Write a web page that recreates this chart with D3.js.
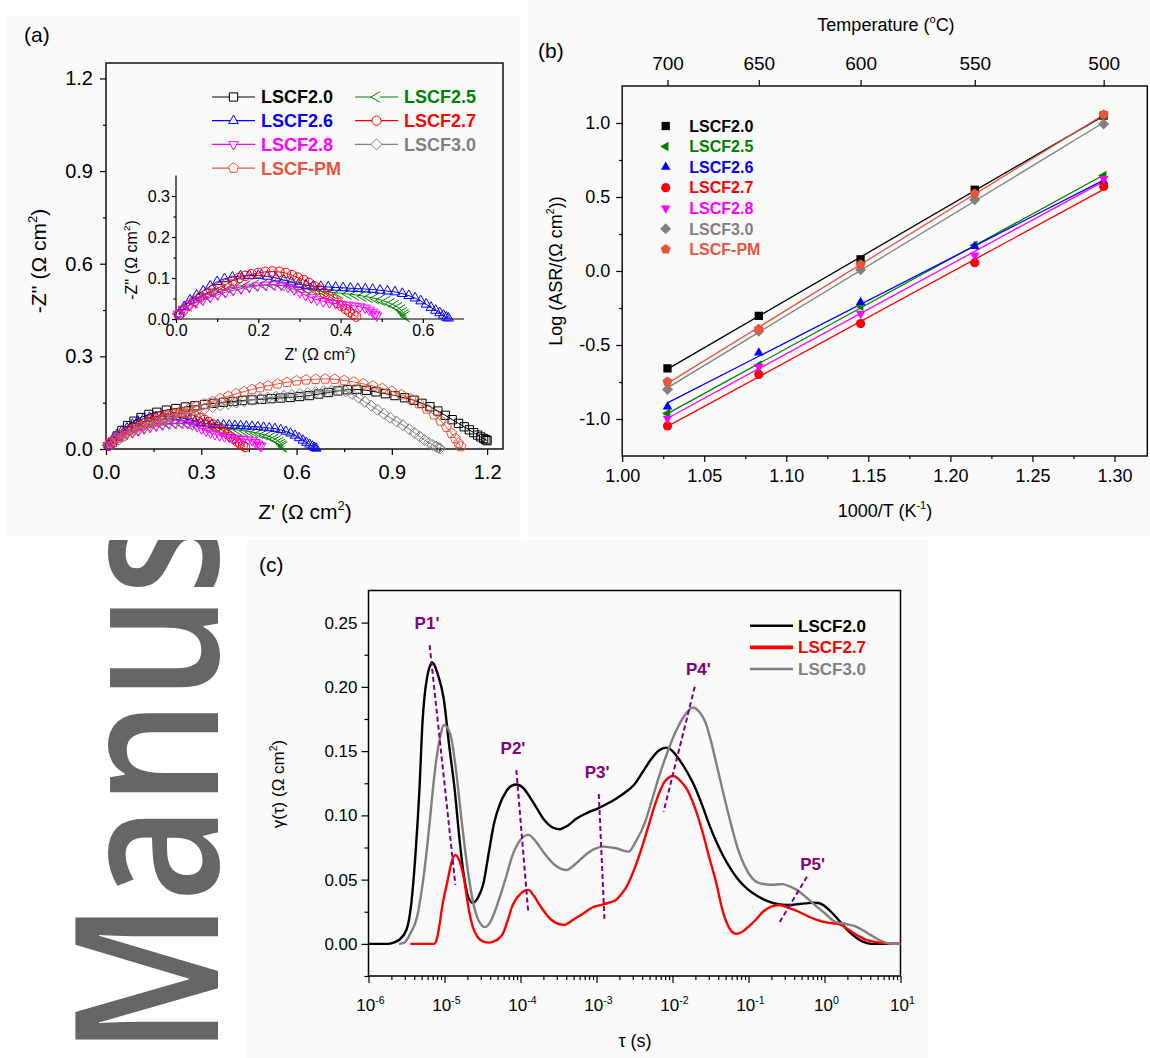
<!DOCTYPE html>
<html>
<head>
<meta charset="utf-8">
<script src="https://cdn.jsdelivr.net/npm/d3@7"></script>
<style>
  body { margin: 0; background: #fff; }
  svg { display: block; }
</style>
</head>
<body>
<svg id="fig" width="1150" height="1058"></svg>
<script>
// ---------------- data ----------------
// (a) Nyquist plots: [Z', -Z''] in ohm cm2
const seriesNames = ["LSCF2.0", "LSCF2.5", "LSCF2.6", "LSCF2.7", "LSCF2.8", "LSCF3.0", "LSCF-PM"];

const nyq20 = [[0.02,0.022],[0.035,0.042],[0.05,0.06],[0.068,0.076],[0.088,0.09],[0.11,0.102],[0.135,0.112],[0.16,0.119],[0.19,0.126],[0.22,0.131],[0.25,0.136],[0.28,0.14],[0.31,0.144],[0.34,0.148],[0.37,0.151],[0.4,0.154],[0.43,0.157],[0.46,0.159],[0.49,0.161],[0.52,0.163],[0.55,0.165],[0.58,0.167],[0.61,0.17],[0.64,0.173],[0.67,0.178],[0.7,0.183],[0.73,0.188],[0.76,0.192],[0.79,0.193],[0.82,0.19],[0.85,0.185],[0.88,0.179],[0.91,0.173],[0.94,0.166],[0.97,0.158],[0.995,0.148],[1.02,0.137],[1.045,0.123],[1.068,0.109],[1.09,0.095],[1.11,0.083],[1.128,0.072],[1.144,0.062],[1.158,0.053],[1.17,0.045],[1.18,0.039],[1.189,0.034],[1.196,0.03],[1.2,0.027]];
const nyq25 = [[0.005,0.012],[0.017,0.022],[0.03,0.032],[0.045,0.04],[0.06,0.047],[0.077,0.055],[0.095,0.062],[0.113,0.068],[0.132,0.073],[0.152,0.077],[0.172,0.08],[0.193,0.082],[0.214,0.083],[0.235,0.083],[0.256,0.082],[0.277,0.08],[0.298,0.077],[0.318,0.073],[0.338,0.07],[0.358,0.067],[0.378,0.065],[0.398,0.063],[0.418,0.061],[0.436,0.059],[0.454,0.056],[0.47,0.053],[0.485,0.05],[0.499,0.046],[0.512,0.042],[0.523,0.037],[0.533,0.032],[0.541,0.027],[0.548,0.021],[0.553,0.015],[0.557,0.01],[0.56,0.006]];
const nyq26 = [[0.008,0.012],[0.02,0.03],[0.034,0.046],[0.05,0.058],[0.066,0.068],[0.083,0.08],[0.1,0.091],[0.118,0.098],[0.137,0.102],[0.157,0.105],[0.178,0.106],[0.2,0.106],[0.222,0.104],[0.243,0.1],[0.262,0.095],[0.28,0.09],[0.298,0.085],[0.316,0.082],[0.334,0.08],[0.352,0.079],[0.37,0.078],[0.388,0.077],[0.406,0.076],[0.424,0.075],[0.442,0.074],[0.46,0.073],[0.478,0.072],[0.496,0.07],[0.514,0.068],[0.532,0.066],[0.55,0.062],[0.566,0.057],[0.581,0.051],[0.595,0.044],[0.608,0.036],[0.62,0.028],[0.631,0.021],[0.641,0.015],[0.65,0.009],[0.657,0.004],[0.662,0.002]];
const nyq27 = [[0.008,0.01],[0.018,0.022],[0.03,0.033],[0.044,0.044],[0.06,0.054],[0.075,0.062],[0.091,0.071],[0.107,0.078],[0.123,0.085],[0.138,0.093],[0.153,0.1],[0.168,0.105],[0.184,0.109],[0.2,0.112],[0.217,0.115],[0.234,0.116],[0.251,0.115],[0.267,0.112],[0.282,0.107],[0.296,0.101],[0.31,0.095],[0.323,0.088],[0.336,0.08],[0.348,0.072],[0.36,0.064],[0.371,0.056],[0.382,0.048],[0.393,0.04],[0.403,0.032],[0.413,0.024],[0.422,0.017],[0.431,0.011],[0.438,0.006]];
const nyq28 = [[0.005,0.012],[0.017,0.024],[0.032,0.033],[0.048,0.04],[0.065,0.047],[0.083,0.053],[0.101,0.059],[0.12,0.065],[0.139,0.07],[0.158,0.074],[0.178,0.078],[0.198,0.081],[0.218,0.083],[0.238,0.084],[0.256,0.082],[0.272,0.078],[0.287,0.072],[0.301,0.065],[0.315,0.058],[0.329,0.052],[0.343,0.047],[0.358,0.043],[0.373,0.04],[0.388,0.038],[0.403,0.036],[0.418,0.034],[0.433,0.032],[0.447,0.03],[0.46,0.027],[0.47,0.022],[0.478,0.017],[0.484,0.012],[0.488,0.008]];
const nyq30 = [[0.02,0.015],[0.04,0.03],[0.06,0.043],[0.085,0.056],[0.11,0.067],[0.135,0.077],[0.16,0.087],[0.185,0.096],[0.21,0.104],[0.235,0.111],[0.26,0.118],[0.285,0.124],[0.31,0.13],[0.335,0.136],[0.36,0.141],[0.385,0.146],[0.41,0.151],[0.435,0.155],[0.46,0.159],[0.485,0.163],[0.51,0.166],[0.535,0.169],[0.56,0.172],[0.585,0.175],[0.61,0.178],[0.635,0.181],[0.66,0.184],[0.685,0.187],[0.71,0.189],[0.735,0.19],[0.755,0.187],[0.775,0.178],[0.795,0.166],[0.815,0.153],[0.835,0.14],[0.855,0.127],[0.875,0.114],[0.895,0.101],[0.915,0.089],[0.935,0.077],[0.955,0.064],[0.972,0.052],[0.988,0.04],[1.003,0.029],[1.017,0.02],[1.029,0.013],[1.039,0.008],[1.047,0.004],[1.052,0.002]];
const nyqPM = [[0.013,0.022],[0.035,0.036],[0.06,0.05],[0.085,0.062],[0.11,0.073],[0.135,0.083],[0.16,0.093],[0.185,0.102],[0.21,0.111],[0.235,0.12],[0.26,0.129],[0.285,0.138],[0.31,0.146],[0.335,0.154],[0.36,0.163],[0.385,0.171],[0.41,0.179],[0.435,0.186],[0.46,0.193],[0.485,0.199],[0.51,0.205],[0.54,0.211],[0.57,0.216],[0.6,0.221],[0.63,0.224],[0.66,0.226],[0.69,0.227],[0.72,0.226],[0.75,0.222],[0.78,0.217],[0.81,0.211],[0.84,0.204],[0.87,0.196],[0.9,0.187],[0.93,0.176],[0.96,0.162],[0.985,0.147],[1.01,0.13],[1.033,0.111],[1.054,0.091],[1.072,0.071],[1.088,0.051],[1.1,0.034],[1.11,0.019],[1.117,0.008]];

// (b) Arrhenius data: measuring temperatures (deg C) and log(ASR)
const tempsC = [700, 650, 600, 550, 500];
const logASR20 = [-0.658, -0.303, 0.079, 0.549, 1.05];
const logASR25 = [-0.962, -0.636, -0.238, 0.173, 0.645];
const logASR26 = [-0.917, -0.553, -0.211, 0.167, 0.605];
const logASR27 = [-1.047, -0.699, -0.355, 0.056, 0.571];
const logASR28 = [-0.996, -0.647, -0.288, 0.106, 0.623];
const logASR30 = [-0.8, -0.407, 0.009, 0.481, 0.994];
const logASRPM = [-0.748, -0.393, 0.043, 0.522, 1.057];

// (c) distribution of relaxation times: [log10(tau/s), gamma]
const drtNames = ["LSCF2.0", "LSCF2.7", "LSCF3.0"];
const drt20 = [[-6,0],[-5.75,0],[-5.67,0.001],[-5.6,0.003],[-5.5,0.011],[-5.44,0.03],[-5.384,0.068],[-5.33,0.12],[-5.29,0.172],[-5.23,0.207],[-5.158,0.219],[-5.09,0.21],[-5.008,0.19],[-4.94,0.155],[-4.866,0.12],[-4.8,0.08],[-4.75,0.055],[-4.69,0.037],[-4.63,0.032],[-4.56,0.036],[-4.488,0.047],[-4.42,0.07],[-4.347,0.094],[-4.27,0.109],[-4.205,0.117],[-4.12,0.123],[-4.05,0.124],[-3.96,0.121],[-3.875,0.114],[-3.78,0.105],[-3.687,0.0964],[-3.59,0.091],[-3.488,0.0892],[-3.38,0.092],[-3.262,0.0975],[-3.12,0.102],[-2.979,0.1055],[-2.86,0.109],[-2.743,0.113],[-2.62,0.118],[-2.508,0.1236],[-2.39,0.134],[-2.272,0.1444],[-2.18,0.1505],[-2.083,0.1527],[-1.99,0.1495],[-1.895,0.142],[-1.8,0.133],[-1.707,0.1223],[-1.61,0.108],[-1.518,0.093],[-1.42,0.079],[-1.329,0.068],[-1.23,0.058],[-1.141,0.0505],[-1.02,0.043],[-0.904,0.038],[-0.78,0.034],[-0.668,0.0316],[-0.55,0.0305],[-0.432,0.0303],[-0.34,0.031],[-0.245,0.0315],[-0.16,0.032],[-0.08,0.0318],[0.0,0.0295],[0.086,0.025],[0.18,0.019],[0.275,0.0125],[0.37,0.007],[0.463,0.003],[0.55,0.0008],[0.62,0],[1,0]];
const drt27 = [[-5.45,0],[-5.14,0],[-5.1,0.004],[-5.07,0.013],[-5.03,0.029],[-4.96,0.049],[-4.91,0.063],[-4.857,0.0692],[-4.8,0.064],[-4.748,0.0523],[-4.69,0.03],[-4.63,0.0135],[-4.56,0.005],[-4.488,0.0018],[-4.42,0.001],[-4.35,0.002],[-4.29,0.004],[-4.229,0.0083],[-4.17,0.018],[-4.111,0.029],[-4.0,0.039],[-3.899,0.042],[-3.82,0.037],[-3.734,0.029],[-3.6,0.019],[-3.428,0.0148],[-3.3,0.019],[-3.168,0.0239],[-3.05,0.0285],[-2.933,0.0303],[-2.84,0.032],[-2.743,0.0342],[-2.67,0.039],[-2.602,0.0448],[-2.51,0.057],[-2.413,0.0731],[-2.32,0.091],[-2.225,0.1094],[-2.1,0.1265],[-1.989,0.1306],[-1.9,0.127],[-1.8,0.1193],[-1.7,0.105],[-1.612,0.0886],[-1.52,0.068],[-1.424,0.0473],[-1.35,0.028],[-1.281,0.0156],[-1.22,0.0095],[-1.164,0.0078],[-1.08,0.0095],[-0.999,0.0135],[-0.9,0.019],[-0.81,0.025],[-0.7,0.029],[-0.598,0.0303],[-0.47,0.028],[-0.338,0.025],[-0.22,0.0215],[-0.102,0.0187],[0.04,0.0165],[0.18,0.0156],[0.322,0.0109],[0.45,0.006],[0.558,0.003],[0.7,0.0012],[0.85,0.0003],[1,0]];
const drt30 = [[-5.6,0],[-5.526,0.001],[-5.45,0.008],[-5.36,0.0212],[-5.28,0.05],[-5.196,0.094],[-5.15,0.122],[-5.102,0.1457],[-5.05,0.163],[-5.008,0.1703],[-4.96,0.168],[-4.914,0.161],[-4.85,0.136],[-4.771,0.094],[-4.7,0.06],[-4.63,0.0342],[-4.55,0.018],[-4.465,0.013],[-4.38,0.019],[-4.3,0.0316],[-4.2,0.05],[-4.111,0.068],[-4.0,0.081],[-3.899,0.0848],[-3.79,0.079],[-3.687,0.0705],[-3.54,0.061],[-3.395,0.0575],[-3.28,0.062],[-3.168,0.068],[-3.04,0.0735],[-2.909,0.0757],[-2.743,0.0744],[-2.579,0.0718],[-2.48,0.08],[-2.366,0.094],[-2.27,0.112],[-2.178,0.1301],[-2.08,0.147],[-1.989,0.161],[-1.86,0.176],[-1.73,0.184],[-1.64,0.18],[-1.564,0.172],[-1.49,0.157],[-1.424,0.1405],[-1.33,0.117],[-1.234,0.094],[-1.14,0.074],[-1.046,0.0601],[-0.95,0.051],[-0.857,0.0473],[-0.7,0.046],[-0.55,0.0465],[-0.45,0.0445],[-0.338,0.041],[-0.22,0.035],[-0.102,0.029],[0.0,0.024],[0.133,0.0174],[0.28,0.0155],[0.416,0.0135],[0.51,0.0105],[0.605,0.007],[0.72,0.003],[0.841,0.0005],[1,0]];

// (c) peak guide lines: labels, label anchor and line ends in [log10(tau), gamma]
const peakLabels = ["P1'", "P2'", "P3'", "P4'", "P5'"];
const peakLabelAt = [[-5.23, 0.25], [-4.099, 0.1522], [-2.991, 0.134], [-1.659, 0.214], [-0.157, 0.0624]];
const peakLineFrom = [[-5.196, 0.2325], [-4.055, 0.1353], [-2.97, 0.1166], [-1.707, 0.2001], [-0.23, 0.0523]];
const peakLineTo = [[-4.857, 0.0459], [-3.899, 0.0251], [-2.895, 0.0187], [-2.117, 0.1029], [-0.598, 0.0161]];

// ---------------- styles ----------------
const FONT = "'Liberation Sans', Arial, Helvetica, sans-serif";
const colors = ["#000000", "#008000", "#0000ff", "#ff0000", "#ff00ff", "#808080", "#e8553c"];
const shapesA = ["square", "chevron", "up", "circle", "down", "diamond", "pentagon"];
const shapesB = ["square", "left", "up", "circle", "down", "diamond", "pentagon"];
const drtColors = ["#000000", "#ff0000", "#808080"];
const drtWidths = [2.4, 2.4, 2.4];
const drtLegendWidths = [2.6, 3.8, 2.6];
const PANEL_BG = "#fafafa";

const svg = d3.select("#fig");

// marker geometry
function markerPath(kind, r) {
  const p = d3.path();
  const polygon = (angles, rad) => {
    angles.forEach((a, i) => {
      const t = a * Math.PI / 180;
      const x = rad * Math.cos(t), y = rad * Math.sin(t);
      if (i === 0) p.moveTo(x, y); else p.lineTo(x, y);
    });
    p.closePath();
  };
  switch (kind) {
    case "square": p.rect(-r * 0.9, -r * 0.9, r * 1.8, r * 1.8); break;
    case "circle": p.moveTo(r, 0); p.arc(0, 0, r, 0, 2 * Math.PI); break;
    case "up": polygon([-90, 30, 150], r * 1.2); break;
    case "down": polygon([90, 210, 330], r * 1.2); break;
    case "left": polygon([180, 300, 60], r * 1.2); break;
    case "chevron": {
      const s = r * 1.2;
      p.moveTo(s * 0.6, -s * 0.95); p.lineTo(-s, 0); p.lineTo(s * 0.6, s * 0.95);
      break;
    }
    case "diamond": polygon([0, 90, 180, 270], r * 1.2); break;
    case "pentagon": polygon([-90, -18, 54, 126, 198], r * 1.15); break;
  }
  return p.toString();
}

function styleAxis(g, fs) {
  g.attr("font-size", fs).attr("font-family", FONT);
  g.selectAll(".domain").remove();
  g.selectAll(".tick line").attr("stroke", "#000").attr("stroke-width", 1.2);
  g.selectAll(".tick text").attr("fill", "#000");
}

// text with simple superscript parts: [[text, isSup], ...]
function richText(parent, x, y, parts, fs, opts = {}) {
  const t = parent.append("text")
    .attr("x", x).attr("y", y)
    .attr("font-family", FONT).attr("font-size", fs)
    .attr("text-anchor", opts.anchor || "middle")
    .attr("fill", opts.fill || "#000");
  if (opts.transform) t.attr("transform", opts.transform);
  if (opts.weight) t.attr("font-weight", opts.weight);
  let sup = false;
  parts.forEach(([s, isSup]) => {
    const ts = t.append("tspan").text(s);
    if (isSup && !sup) ts.attr("dy", -fs * 0.42).attr("font-size", fs * 0.62);
    else if (!isSup && sup) ts.attr("dy", fs * 0.42);
    sup = isSup;
  });
  return t;
}

// ---------------- backgrounds & watermark ----------------
const clip = svg.append("defs").append("clipPath").attr("id", "wmClip");
clip.append("rect").attr("x", 0).attr("y", 540).attr("width", 245).attr("height", 518);

svg.append("g").attr("clip-path", "url(#wmClip)")
  .append("text")
  .attr("transform", "translate(218,1055) rotate(-90) scale(0.83,1)")
  .attr("font-family", "'Open Sans', 'Noto Sans', sans-serif")
  .attr("font-size", 200)
  .attr("font-weight", 600)
  .attr("fill", "#666666")
  .text("Manus");

svg.append("rect").attr("x", 5).attr("y", 15).attr("width", 515).attr("height", 522).attr("fill", PANEL_BG);
svg.append("rect").attr("x", 528).attr("y", 0).attr("width", 622).attr("height", 537).attr("fill", PANEL_BG);
svg.append("rect").attr("x", 247).attr("y", 540).attr("width", 681).attr("height", 518).attr("fill", PANEL_BG);

// ---------------- panel (a) ----------------
const nyqData = [nyq20, nyq25, nyq26, nyq27, nyq28, nyq30, nyqPM];
const gA = svg.append("g");
const xA = d3.scaleLinear().domain([0, 1.25]).range([106, 503]);
const yA = d3.scaleLinear().domain([0, 1.25]).range([449, 63]);

gA.append("text").attr("x", 24).attr("y", 42).attr("font-family", FONT).attr("font-size", 21).text("(a)");

const fmt1 = d => d.toFixed(1);
styleAxis(gA.append("g").attr("transform", "translate(0,449)")
  .call(d3.axisBottom(xA).tickValues([0, 0.3, 0.6, 0.9, 1.2]).tickFormat(fmt1).tickSize(6).tickPadding(10)), 20);
styleAxis(gA.append("g").attr("transform", "translate(0,449)")
  .call(d3.axisBottom(xA).tickValues([0.15, 0.45, 0.75, 1.05]).tickFormat("").tickSize(3)), 20);
styleAxis(gA.append("g").attr("transform", "translate(106,0)")
  .call(d3.axisLeft(yA).tickValues([0, 0.3, 0.6, 0.9, 1.2]).tickFormat(fmt1).tickSize(6).tickPadding(7)), 20);
styleAxis(gA.append("g").attr("transform", "translate(106,0)")
  .call(d3.axisLeft(yA).tickValues([0.15, 0.45, 0.75, 1.05]).tickFormat("").tickSize(3)), 20);
gA.append("rect").attr("x", 106).attr("y", 63).attr("width", 397).attr("height", 386)
  .attr("fill", "none").attr("stroke", "#000").attr("stroke-width", 1.4);

richText(gA, 305, 519, [["Z' (\u03A9 cm", false], ["2", true], [")", false]], 21);
richText(gA, 0, 0, [["-Z'' (\u03A9 cm", false], ["2", true], [")", false]], 21,
  { transform: "translate(46,261) rotate(-90)" });

function drawNyquist(g, xs, ys, idxList, r) {
  idxList.forEach(i => {
    const pts = nyqData[i];
    g.append("path")
      .attr("d", d3.line().x(d => xs(d[0])).y(d => ys(d[1]))(pts))
      .attr("fill", "none").attr("stroke", colors[i]).attr("stroke-width", 1);
    g.append("g").selectAll("path").data(pts).join("path")
      .attr("transform", d => `translate(${xs(d[0])},${ys(d[1])})`)
      .attr("d", markerPath(shapesA[i], r))
      .attr("fill", "none").attr("stroke", colors[i]).attr("stroke-width", 1);
  });
}
drawNyquist(gA.append("g"), xA, yA, [0, 1, 2, 3, 4, 5, 6], 4.6);

// legend (a)
const legA = gA.append("g");
const legAPos = [[0, 0], [1, 0], [0, 1], [1, 1], [0, 2], [1, 2], [0, 3]];
seriesNames.forEach((name, i) => {
  const [c, r] = legAPos[i];
  const x0 = c === 0 ? 212 : 355;
  const y0 = 97 + r * 23.7;
  legA.append("line").attr("x1", x0).attr("x2", x0 + 43).attr("y1", y0).attr("y2", y0)
    .attr("stroke", colors[i]).attr("stroke-width", 1.2);
  legA.append("path").attr("transform", `translate(${x0 + 21.5},${y0})`)
    .attr("d", markerPath(shapesA[i], 4.6))
    .attr("fill", PANEL_BG).attr("stroke", colors[i]).attr("stroke-width", 1);
  legA.append("text").attr("x", x0 + 49).attr("y", y0).attr("dy", "0.36em")
    .attr("font-family", FONT).attr("font-size", 18).attr("font-weight", "bold")
    .attr("fill", colors[i]).text(name);
});

// inset (a)
const gI = gA.append("g");
const xI = d3.scaleLinear().domain([0, 0.7]).range([176, 464]);
const yI = d3.scaleLinear().domain([0, 0.35]).range([319, 175.5]);
gI.append("line").attr("x1", 176).attr("x2", 464).attr("y1", 319).attr("y2", 319).attr("stroke", "#000").attr("stroke-width", 1.2);
gI.append("line").attr("x1", 176).attr("x2", 176).attr("y1", 319).attr("y2", 175.5).attr("stroke", "#000").attr("stroke-width", 1.2);
styleAxis(gI.append("g").attr("transform", "translate(0,319)")
  .call(d3.axisBottom(xI).tickValues([0, 0.2, 0.4, 0.6]).tickFormat(fmt1).tickSize(4).tickPadding(2)), 16);
styleAxis(gI.append("g").attr("transform", "translate(0,319)")
  .call(d3.axisBottom(xI).tickValues([0.1, 0.3, 0.5]).tickFormat("").tickSize(3)), 16);
styleAxis(gI.append("g").attr("transform", "translate(176,0)")
  .call(d3.axisLeft(yI).tickValues([0, 0.1, 0.2, 0.3]).tickFormat(fmt1).tickSize(4).tickPadding(2)), 16);
styleAxis(gI.append("g").attr("transform", "translate(176,0)")
  .call(d3.axisLeft(yI).tickValues([0.05, 0.15, 0.25]).tickFormat("").tickSize(2.5)), 16);
richText(gI, 320, 360, [["Z' (\u03A9 cm", false], ["2", true], [")", false]], 16);
richText(gI, 0, 0, [["-Z'' (\u03A9 cm", false], ["2", true], [")", false]], 16,
  { transform: "translate(137,260) rotate(-90)" });
drawNyquist(gI.append("g"), xI, yI, [1, 2, 3, 4], 4.8);

// ---------------- panel (b) ----------------
const asrData = [logASR20, logASR25, logASR26, logASR27, logASR28, logASR30, logASRPM];
const invT = tempsC.map(t => 1000 / (t + 273.15));
const gB = svg.append("g");
const xB = d3.scaleLinear().domain([1.0, 1.32]).range([622.2, 1147.3]);
const yB = d3.scaleLinear().domain([-1.25, 1.25]).range([456, 86]);

gB.append("text").attr("x", 538).attr("y", 58).attr("font-family", FONT).attr("font-size", 21).text("(b)");

const fmt2 = d => d.toFixed(2);
styleAxis(gB.append("g").attr("transform", "translate(0,456)")
  .call(d3.axisBottom(xB).tickValues(d3.range(0, 7).map(k => 1 + k * 0.05)).tickFormat(fmt2).tickSize(6).tickPadding(7)), 18);
styleAxis(gB.append("g").attr("transform", "translate(0,456)")
  .call(d3.axisBottom(xB).tickValues(d3.range(0, 6).map(k => 1.025 + k * 0.05)).tickFormat("").tickSize(3)), 18);
styleAxis(gB.append("g").attr("transform", "translate(622.2,0)")
  .call(d3.axisLeft(yB).tickValues([-1, -0.5, 0, 0.5, 1]).tickFormat(fmt1).tickSize(6).tickPadding(6)), 18);
styleAxis(gB.append("g").attr("transform", "translate(622.2,0)")
  .call(d3.axisLeft(yB).tickValues([-0.75, -0.25, 0.25, 0.75]).tickFormat("").tickSize(3)), 18);
styleAxis(gB.append("g").attr("transform", "translate(0,86)")
  .call(d3.axisTop(xB).tickValues(invT).tickFormat((d, i) => tempsC[i]).tickSize(6).tickPadding(10)), 19);
gB.append("rect").attr("x", 622.2).attr("y", 86).attr("width", 1147.3 - 622.2).attr("height", 370)
  .attr("fill", "none").attr("stroke", "#000").attr("stroke-width", 1.4);

richText(gB, 886, 31, [["Temperature (", false], ["o", true], ["C)", false]], 18);
richText(gB, 885, 517, [["1000/T (K", false], ["-1", true], [")", false]], 18);
richText(gB, 0, 0, [["Log (ASR/(\u03A9 cm", false], ["2", true], ["))", false]], 18,
  { transform: "translate(562,271) rotate(-90)" });

// least-squares fit lines
asrData.forEach((vals, i) => {
  const mx = d3.mean(invT), my = d3.mean(vals);
  const sxy = d3.sum(invT, (x, k) => (x - mx) * (vals[k] - my));
  const sxx = d3.sum(invT, x => (x - mx) * (x - mx));
  const slope = sxy / sxx, icpt = my - slope * mx;
  const xs = [invT[0], invT[invT.length - 1]];
  gB.append("line")
    .attr("x1", xB(xs[0])).attr("y1", yB(icpt + slope * xs[0]))
    .attr("x2", xB(xs[1])).attr("y2", yB(icpt + slope * xs[1]))
    .attr("stroke", colors[i]).attr("stroke-width", 1.3);
});
asrData.forEach((vals, i) => {
  gB.append("g").selectAll("path").data(vals).join("path")
    .attr("transform", (d, k) => `translate(${xB(invT[k])},${yB(d)})`)
    .attr("d", markerPath(shapesB[i], 4.6))
    .attr("fill", colors[i]).attr("stroke", "none");
});

// legend (b)
seriesNames.forEach((name, i) => {
  const y0 = 126 + i * 20.55;
  gB.append("path").attr("transform", `translate(665.7,${y0})`)
    .attr("d", markerPath(shapesB[i], 4.6)).attr("fill", colors[i]);
  gB.append("text").attr("x", 689.3).attr("y", y0).attr("dy", "0.36em")
    .attr("font-family", FONT).attr("font-size", 16).attr("font-weight", "bold")
    .attr("fill", colors[i]).text(name);
});

// ---------------- panel (c) ----------------
const drtData = [drt20, drt27, drt30];
const gC = svg.append("g");
const xC = d3.scaleLog().domain([1e-6, 10]).range([368.5, 900.5]);
const yC = d3.scaleLinear().domain([-0.025, 0.275]).range([976, 590.5]);
const tx = u => xC(Math.pow(10, u));

gC.append("text").attr("x", 259).attr("y", 572).attr("font-family", FONT).attr("font-size", 21).text("(c)");

styleAxis(gC.append("g").attr("transform", "translate(368.5,0)")
  .call(d3.axisLeft(yC).tickValues([0, 0.05, 0.1, 0.15, 0.2, 0.25]).tickFormat(fmt2).tickSize(7).tickPadding(4)), 17);
styleAxis(gC.append("g").attr("transform", "translate(368.5,0)")
  .call(d3.axisLeft(yC).tickValues([-0.025, 0.025, 0.075, 0.125, 0.175, 0.225]).tickFormat("").tickSize(4)), 17);

const decades = d3.range(-6, 2);
const minorTau = [];
decades.slice(0, -1).forEach(e => { for (let m = 2; m <= 9; m++) minorTau.push(m * Math.pow(10, e)); });
styleAxis(gC.append("g").attr("transform", "translate(0,976)")
  .call(d3.axisBottom(xC).tickValues(decades.map(e => Math.pow(10, e))).tickFormat("").tickSize(7)), 17);
styleAxis(gC.append("g").attr("transform", "translate(0,976)")
  .call(d3.axisBottom(xC).tickValues(minorTau).tickFormat("").tickSize(4)), 17);
decades.forEach(e => {
  richText(gC, xC(Math.pow(10, e)) + 2, 1011, [["10", false], [String(e), true]], 17);
});
gC.append("rect").attr("x", 368.5).attr("y", 590.5).attr("width", 532).attr("height", 385.5)
  .attr("fill", "none").attr("stroke", "#000").attr("stroke-width", 1.5);

richText(gC, 635, 1047, [["\u03C4 (s)", false]], 18);
richText(gC, 0, 0, [["\u03B3(\u03C4) (\u03A9 cm", false], ["2", true], [")", false]], 17,
  { transform: "translate(284,784) rotate(-90)" });

drtData.forEach((pts, i) => {
  gC.append("path")
    .attr("d", d3.line().x(d => tx(d[0])).y(d => yC(d[1])).curve(d3.curveMonotoneX)(pts))
    .attr("fill", "none").attr("stroke", drtColors[i]).attr("stroke-width", drtWidths[i])
    .attr("stroke-linejoin", "round");
});

// peak guide lines
peakLabels.forEach((lab, i) => {
  gC.append("line")
    .attr("x1", tx(peakLineFrom[i][0])).attr("y1", yC(peakLineFrom[i][1]))
    .attr("x2", tx(peakLineTo[i][0])).attr("y2", yC(peakLineTo[i][1]))
    .attr("stroke", "#800080").attr("stroke-width", 2).attr("stroke-dasharray", "5,3");
  gC.append("text").attr("x", tx(peakLabelAt[i][0])).attr("y", yC(peakLabelAt[i][1])).attr("dy", "0.36em")
    .attr("text-anchor", "middle").attr("font-family", FONT).attr("font-size", 17).attr("font-weight", "bold")
    .attr("fill", "#800080").text(lab);
});

// legend (c)
drtNames.forEach((name, i) => {
  const y0 = 625.7 + i * 21.65;
  gC.append("line").attr("x1", 750).attr("x2", 793).attr("y1", y0).attr("y2", y0)
    .attr("stroke", drtColors[i]).attr("stroke-width", drtLegendWidths[i]);
  gC.append("text").attr("x", 798).attr("y", y0).attr("dy", "0.36em")
    .attr("font-family", FONT).attr("font-size", 17).attr("font-weight", "bold")
    .attr("fill", drtColors[i]).text(name);
});
</script>
</body>
</html>
